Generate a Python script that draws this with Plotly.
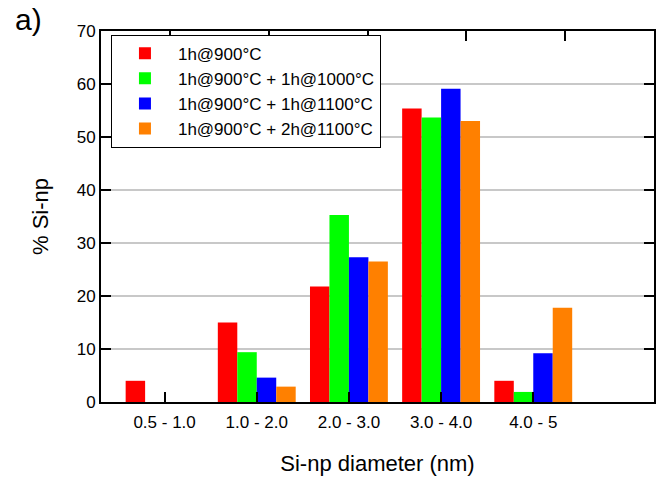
import plotly.graph_objects as go

categories = ["0.5 - 1.0", "1.0 - 2.0", "2.0 - 3.0", "3.0 - 4.0", "4.0 - 5"]
series_names = ["1h@900°C", "1h@900°C + 1h@1000°C", "1h@900°C + 1h@1100°C", "1h@900°C + 2h@1100°C"]
s_900 = [4.0, 15.0, 21.8, 55.4, 4.0]
s_900_1000 = [0, 9.4, 35.3, 53.7, 1.9]
s_900_1100_1h = [0, 4.6, 27.3, 59.1, 9.2]
s_900_1100_2h = [0, 2.9, 26.5, 53.0, 17.8]
colors = ["#ff0000", "#00ff00", "#0000ff", "#ff8000"]
y_ticks = [0, 10, 20, 30, 40, 50, 60, 70]
top_ticks = [0.7, 1.7, 2.7, 3.7, 4.7]

fig = go.Figure()
for name, vals, c in zip(series_names, [s_900, s_900_1000, s_900_1100_1h, s_900_1100_2h], colors):
    fig.add_trace(go.Bar(x=categories, y=vals, name=name, marker=dict(color=c, line=dict(width=0))))

# invisible helper trace so the top tick axis is rendered
fig.add_trace(go.Scatter(x=[top_ticks[0]], y=[0], xaxis="x2", yaxis="y2", mode="markers",
                         marker=dict(opacity=0), showlegend=False, hoverinfo="skip"))

font_family = "Liberation Sans, Arial, sans-serif"
tick_style = dict(ticks="inside", ticklen=10, tickwidth=2, tickcolor="black")
fig.update_layout(
    width=659, height=477,
    margin=dict(l=101, r=5, t=31, b=75, autoexpand=False),
    paper_bgcolor="white", plot_bgcolor="white",
    barmode="group", bargap=0.155, bargroupgap=0,
    font=dict(family=font_family, color="#000000"),
    xaxis=dict(
        type="category", range=[-0.69, 5.31], automargin=False,
        showline=True, linecolor="black", linewidth=2, mirror=False,
        tickfont=dict(size=17), showgrid=False, ticklabelstandoff=4,
        layer="above traces",
        title=dict(text="Si-np diameter (nm)", font=dict(size=22), standoff=24),
        **tick_style,
    ),
    xaxis2=dict(
        overlaying="x", side="top", range=[0, 5.6], automargin=False,
        tickvals=top_ticks, showticklabels=False,
        showline=True, linecolor="black", linewidth=2, showgrid=False, zeroline=False,
        **tick_style,
    ),
    yaxis=dict(
        range=[0, 70], tickvals=y_ticks, automargin=False,
        showline=True, linecolor="black", linewidth=2, mirror="ticks",
        tickfont=dict(size=17), layer="above traces",
        showgrid=True, gridcolor="#c8c8c8", gridwidth=1.5, zeroline=False,
        title=dict(text="% Si-np", font=dict(size=22), standoff=22),
        **tick_style,
    ),
    yaxis2=dict(overlaying="y", range=[0, 70], visible=False, automargin=False),
    legend=dict(
        x=0.018, y=0.99, xanchor="left", yanchor="top",
        bordercolor="black", borderwidth=1, bgcolor="white",
        font=dict(size=17), itemwidth=56, tracegroupgap=0,
    ),
)
fig.add_annotation(text="a)", xref="paper", yref="paper", x=-0.16, y=1.08,
                   xanchor="left", yanchor="top", showarrow=False, font=dict(size=30))

fig.write_html("out.html")
